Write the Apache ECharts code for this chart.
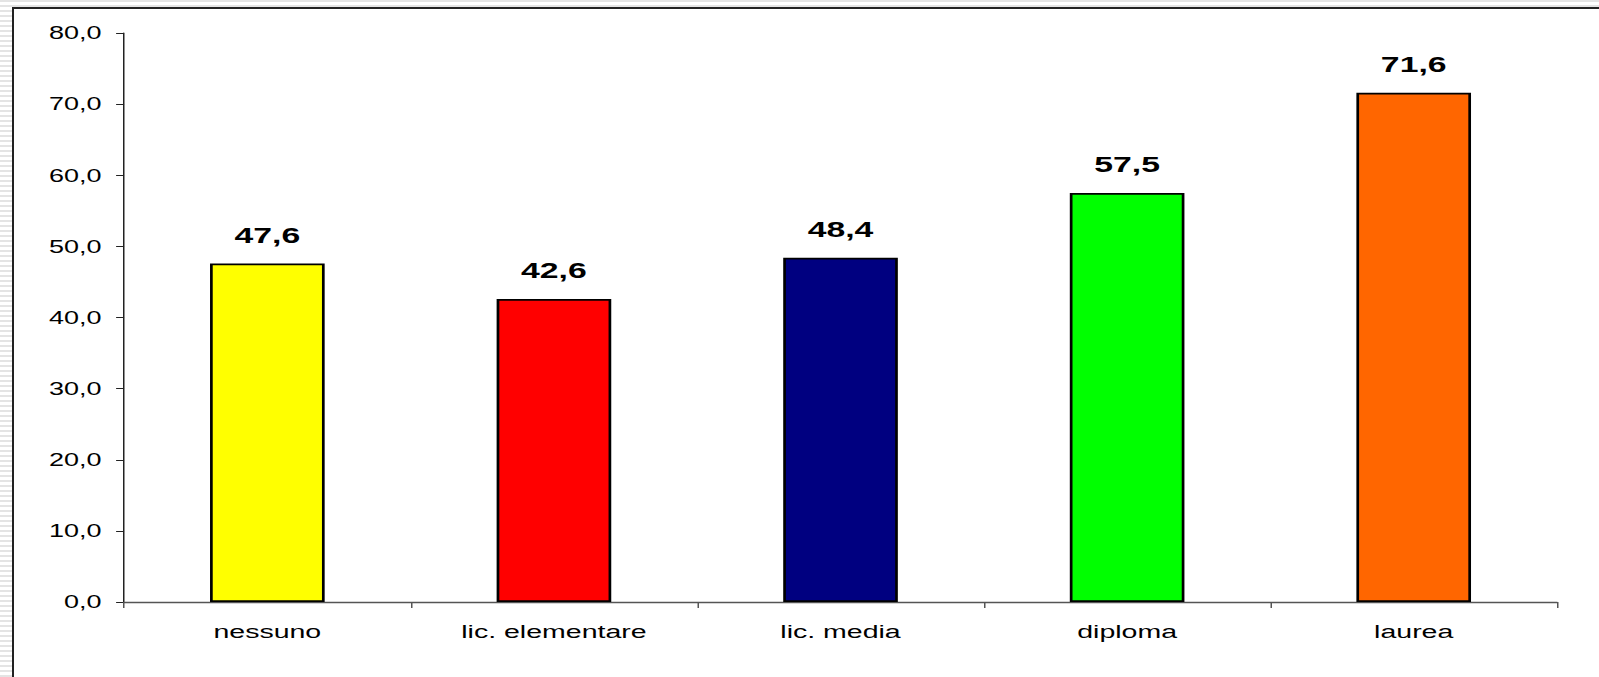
<!DOCTYPE html>
<html>
<head>
<meta charset="utf-8">
<script src="https://cdn.jsdelivr.net/npm/echarts@6/dist/echarts.min.js"></script>
<style>
    html, body {
        margin: 0;
        padding: 0;
        width: 1599px;
        height: 677px;
        overflow: hidden;
        background: repeating-linear-gradient(to bottom, #e4e4e4 0px, #e4e4e4 2px, #ffffff 2px, #ffffff 5px);
    }
    #frame {
        position: absolute;
        left: 12px;
        top: 7px;
        width: 1600px;
        height: 680px;
        background: #ffffff;
        border-left: 2px solid #222;
        border-top: 2px solid #222;
    }
    /* il grafico originale ha il testo allargato in orizzontale */
    #barChart {
        position: absolute;
        left: 0;
        top: 0;
        width: 1066px;
        height: 677px;
        transform: scaleX(1.5);
        transform-origin: 0 0;
    }
</style>
</head>
<body>
<div id="frame"></div>
<div id="barChart"></div>
<script>
    // titolo di studio -> percentuale
    var categories = ['nessuno', 'lic. elementare', 'lic. media', 'diploma', 'laurea'];
    var values = [47.6, 42.6, 48.4, 57.5, 71.6];
    var barColors = ['#FFFF00', '#FF0000', '#000080', '#00FF00', '#FF6600'];

    function virgola(v) {
        return Number(v).toFixed(1).replace('.', ',');
    }

    var myChart = echarts.init(document.getElementById('barChart'), null, {renderer: 'svg'});

    var barData = [];
    for (var i = 0; i < values.length; i++) {
        barData.push({
            value: values[i],
            itemStyle: {color: barColors[i]}
        });
    }

    var option = {
        animation: false,
        textStyle: {fontFamily: 'Liberation Sans, Arial, sans-serif'},
        grid: {
            left: 82.7,
            right: 28,
            top: 33,
            bottom: 75
        },
        xAxis: {
            type: 'category',
            data: categories,
            axisLine: {lineStyle: {color: '#555', width: 1.3}},
            axisTick: {show: true, length: 6, lineStyle: {color: '#555'}},
            axisLabel: {
                color: '#000',
                fontSize: 19,
                margin: 20
            }
        },
        yAxis: {
            type: 'value',
            min: 0,
            max: 80,
            interval: 10,
            splitLine: {show: false},
            axisLine: {show: true, lineStyle: {color: '#222', width: 1}},
            axisTick: {show: true, length: 5.3, lineStyle: {color: '#222'}},
            axisLabel: {
                color: '#000',
                fontSize: 18,
                margin: 15,
                formatter: virgola
            }
        },
        series: [{
            type: 'bar',
            data: barData,
            barWidth: '40%',
            itemStyle: {
                borderColor: '#000',
                borderWidth: 1.8
            },
            label: {
                show: true,
                position: 'top',
                distance: 17,
                color: '#000',
                fontSize: 22.5,
                fontWeight: 'bold',
                formatter: function (p) {
                    return virgola(p.value);
                }
            }
        }]
    };

    myChart.setOption(option);
</script>
</body>
</html>
